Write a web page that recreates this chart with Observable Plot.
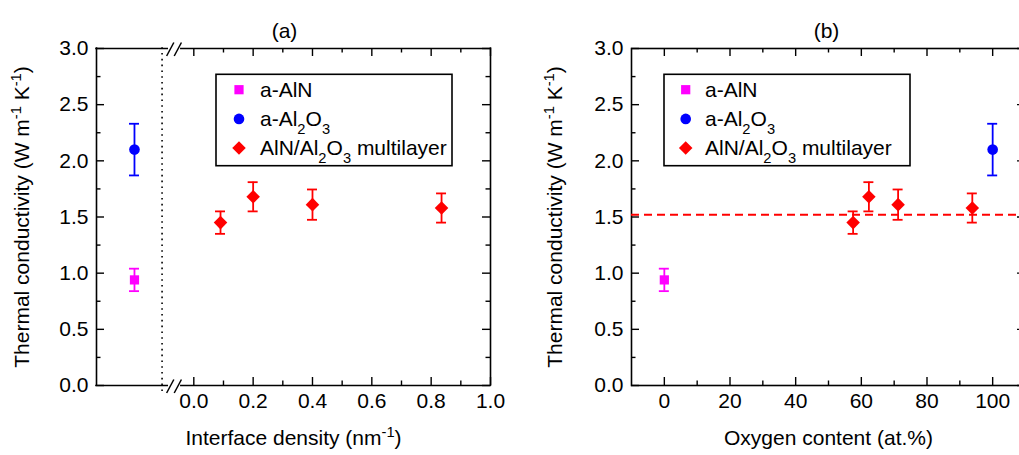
<!DOCTYPE html>
<html><head><meta charset="utf-8">
<script src="https://cdn.jsdelivr.net/npm/d3@7"></script>
<script src="https://cdn.jsdelivr.net/npm/@observablehq/plot@0.6"></script>
<style>
body{margin:0;background:#fff;overflow:hidden;}
#wrap{position:relative;width:1019px;height:455px;overflow:hidden;background:#fff;}
#wrap svg{position:absolute;top:0;}
</style></head><body><div id="wrap"></div>
<script>
// ---- data ----
const refNames = ["a-AlN", "a-Al_{2}O_{3}"];
const refK = [0.94, 2.10];
const refErr = [0.10, 0.23];
const refOxygen = [0, 100];
const refDensityPos = -0.2;          // reference samples placed left of the axis break (panel a)
const mlName = "AlN/Al_{2}O_{3} multilayer";
const mlDensity = [0.09, 0.20, 0.40, 0.835];
const mlOxygen = [57.5, 62.3, 71.2, 93.8];
const mlK = [1.45, 1.68, 1.61, 1.58];
const mlErr = [0.10, 0.13, 0.135, 0.13];
const mlMeanK = 1.52;
const yTicks = [0, 0.5, 1, 1.5, 2, 2.5, 3];
const yMinor = [0.25, 0.75, 1.25, 1.75, 2.25, 2.75];
const densityTicks = [0, 0.2, 0.4, 0.6, 0.8, 1.0];
const densityMinor = [0.1, 0.3, 0.5, 0.7, 0.9];
const oxygenTicks = [0, 20, 40, 60, 80, 100];
const oxygenMinor = [10, 30, 50, 70, 90];
const yDomain = [0, 3];
const densityDomain = [-0.328, 1.0];
const oxygenDomain = [-10, 110];
const densityBreak = [-0.088, -0.042];
const densityDivider = -0.107;
const yLabel = "Thermal conductivity (W m^{-1} K^{-1})";
const xLabelA = "Interface density (nm^{-1})";
const xLabelB = "Oxygen content (at.%)";
const titles = ["(a)", "(b)"];

// ---- styles ----
const FONT = "'Liberation Sans', Arial, Helvetica, sans-serif";
const seriesStyle = [
  {fill: "#ff00ff", symbol: "square", r: 5.2, sym: d3.symbolSquare},
  {fill: "#0000ff", symbol: "circle", r: 5.3, sym: d3.symbolCircle},
  {fill: "#ff0000", symbol: "diamond2", r: 6.1, sym: d3.symbolDiamond2}
];
const FW = 1.6, TK = 8, TKm = 4.5;
const FS_TICK = 21, FS_LAB = 21, FS_LEG = 21;

function buildPoints(refX, mlX) {
  const pts = refX.map((x, i) => ({s: i, x, k: refK[i], e: refErr[i]}));
  mlX.forEach((x, i) => pts.push({s: 2, x, k: mlK[i], e: mlErr[i]}));
  return pts;
}

function dataMarks(pts) {
  const marks = [];
  seriesStyle.forEach((st, s) => {
    const d = pts.filter(p => p.s === s);
    marks.push(Plot.ruleX(d, {x: "x", y1: p => p.k - p.e, y2: p => p.k + p.e, stroke: st.fill, strokeWidth: 1.8}));
    marks.push(Plot.ruleY(d, {y: p => p.k + p.e, x1: "x", x2: "x", insetLeft: -5, insetRight: -5, stroke: st.fill, strokeWidth: 1.8}));
    marks.push(Plot.ruleY(d, {y: p => p.k - p.e, x1: "x", x2: "x", insetLeft: -5, insetRight: -5, stroke: st.fill, strokeWidth: 1.8}));
    marks.push(Plot.dot(d, {x: "x", y: "k", symbol: st.symbol, r: st.r, fill: st.fill, stroke: "none"}));
  });
  return marks;
}

function tickMarks(xMaj, xMin, xDom) {
  const m = [];
  const [y0, y1] = yDomain;
  const [x0, x1] = xDom;
  const tk = {strokeWidth: 1.4, stroke: "black"};
  m.push(Plot.ruleX(xMaj, {x: d => d, y1: y0, y2: y0, insetBottom: TK, ...tk}));
  m.push(Plot.ruleX(xMin, {x: d => d, y1: y0, y2: y0, insetBottom: TKm, ...tk}));
  m.push(Plot.ruleX(xMaj, {x: d => d, y1: y1, y2: y1, insetTop: TK, ...tk}));
  m.push(Plot.ruleX(xMin, {x: d => d, y1: y1, y2: y1, insetTop: TKm, ...tk}));
  m.push(Plot.ruleY(yTicks, {y: d => d, x1: x0, x2: x0, insetLeft: TK, ...tk}));
  m.push(Plot.ruleY(yMinor, {y: d => d, x1: x0, x2: x0, insetLeft: TKm, ...tk}));
  m.push(Plot.ruleY(yTicks, {y: d => d, x1: x1, x2: x1, insetRight: TK, ...tk}));
  m.push(Plot.ruleY(yMinor, {y: d => d, x1: x1, x2: x1, insetRight: TKm, ...tk}));
  return m;
}

function textMarks(title, xLab, dxTitle, dxYLab) {
  return [
    Plot.axisY(yTicks, {anchor: "left", tickSize: 0, tickPadding: 8, tickFormat: d3.format(".1f"), fontSize: FS_TICK, label: null}),
    Plot.text([title], {text: d => d, frameAnchor: "top", textAnchor: "middle", dy: -25, dx: dxTitle, fontSize: FS_LAB}),
    Plot.text([xLab], {text: d => d, frameAnchor: "bottom", textAnchor: "middle", dy: 59, fontSize: FS_LAB}),
    Plot.text([yLabel], {text: d => d, frameAnchor: "left", textAnchor: "middle", rotate: -90, dx: dxYLab, fontSize: FS_LAB})
  ];
}

function rich(svg) {
  d3.select(svg).selectAll("text").each(function () {
    const t = this.textContent;
    if (!/[\^_]\{/.test(t)) return;
    const parts = t.split(/([\^_]\{[^}]*\})/).filter(s => s.length);
    const sel = d3.select(this);
    sel.text(null);
    for (const p of parts) {
      const m = p.match(/^([\^_])\{([^}]*)\}$/);
      const ts = sel.append("tspan");
      if (m) ts.text(m[2]).style("font-size", "70%").attr("baseline-shift", m[1] === "^" ? "super" : "sub");
      else ts.text(p);
    }
  });
}

function legend(svg, ox, oy, w, h, mx, tx) {
  const g = d3.select(svg).append("g").attr("font-family", FONT).attr("font-size", FS_LEG).attr("text-anchor", "start");
  g.append("rect").attr("x", ox).attr("y", oy).attr("width", w).attr("height", h)
    .attr("fill", "white").attr("stroke", "black").attr("stroke-width", FW);
  const labels = [refNames[0], refNames[1], mlName];
  labels.forEach((lab, i) => {
    const st = seriesStyle[i];
    const by = oy + 22.4 + i * 29.2;
    g.append("path").attr("transform", `translate(${ox + mx},${by - 7})`)
      .attr("d", d3.symbol(st.sym, Math.PI * st.r * st.r)()).attr("fill", st.fill);
    g.append("text").attr("x", ox + tx).attr("y", by).attr("fill", "black").attr("text-anchor", "start").text(lab);
  });
}

const wrap = document.getElementById("wrap");

// ---- panel (a) ----
const ptsA = buildPoints([refDensityPos, refDensityPos], mlDensity);
const plotA = Plot.plot({
  width: 510, height: 455,
  marginLeft: 96, marginRight: 20, marginTop: 48, marginBottom: 70,
  style: {fontFamily: FONT, background: "transparent", overflow: "visible", color: "black"},
  x: {domain: densityDomain},
  y: {domain: yDomain},
  marks: [
    Plot.ruleX([densityDivider], {x: d => d, y1: yDomain[0], y2: yDomain[1], insetTop: 6, insetBottom: 4, stroke: "black", strokeWidth: 1.6, strokeDasharray: "1.6,4.2"}),
    Plot.ruleX(densityDomain, {x: d => d, y1: yDomain[0], y2: yDomain[1], stroke: "black", strokeWidth: FW, strokeLinecap: "square"}),
    Plot.ruleY(yDomain, {y: d => d, x1: densityDomain[0], x2: densityBreak[0], stroke: "black", strokeWidth: FW, strokeLinecap: "square"}),
    Plot.ruleY(yDomain, {y: d => d, x1: densityBreak[1], x2: densityDomain[1], stroke: "black", strokeWidth: FW, strokeLinecap: "square"}),
    ...tickMarks(densityTicks, densityMinor, densityDomain),
    Plot.axisX(densityTicks, {anchor: "bottom", tickSize: 0, tickPadding: 8, tickFormat: d3.format(".1f"), fontSize: FS_TICK, label: null}),
    ...textMarks(titles[0], xLabelA, -9, -74),
    ...dataMarks(ptsA)
  ]
});
plotA.style.left = "0px";
wrap.appendChild(plotA);
{
  const xs = plotA.scale("x"), ys = plotA.scale("y");
  const cx = xs.apply((densityBreak[0] + densityBreak[1]) / 2);
  const g = d3.select(plotA).append("g").attr("stroke", "black").attr("stroke-width", 1.5);
  for (const yv of yDomain) {
    const py = ys.apply(yv);
    for (const off of [-3.8, 3.8]) {
      g.append("line").attr("x1", cx + off - 3.6).attr("y1", py + 8).attr("x2", cx + off + 3.6).attr("y2", py - 5.5);
    }
  }
}
legend(plotA, 216, 74.3, 236, 91.4, 23, 44);
rich(plotA);

// ---- panel (b) ----
const ptsB = buildPoints(refOxygen, mlOxygen);
const plotB = Plot.plot({
  width: 530, height: 455,
  marginLeft: 121, marginRight: 15, marginTop: 48, marginBottom: 70,
  style: {fontFamily: FONT, background: "transparent", overflow: "visible", color: "black"},
  x: {domain: oxygenDomain},
  y: {domain: yDomain},
  marks: [
    Plot.frame({stroke: "black", strokeWidth: FW}),
    ...tickMarks(oxygenTicks, oxygenMinor, oxygenDomain),
    Plot.axisX(oxygenTicks, {anchor: "bottom", tickSize: 0, tickPadding: 8, tickFormat: d3.format("d"), fontSize: FS_TICK, label: null}),
    ...textMarks(titles[1], xLabelB, -2, -76),
    Plot.ruleY([mlMeanK], {y: d => d, stroke: "#ff0000", strokeWidth: 1.8, strokeDasharray: "8,5"}),
    ...dataMarks(ptsB)
  ]
});
plotB.style.left = "510px";
wrap.appendChild(plotB);
legend(plotB, 664 - 510, 74.3, 246, 91.4, 21.7, 41);
rich(plotB);
</script></body></html>
